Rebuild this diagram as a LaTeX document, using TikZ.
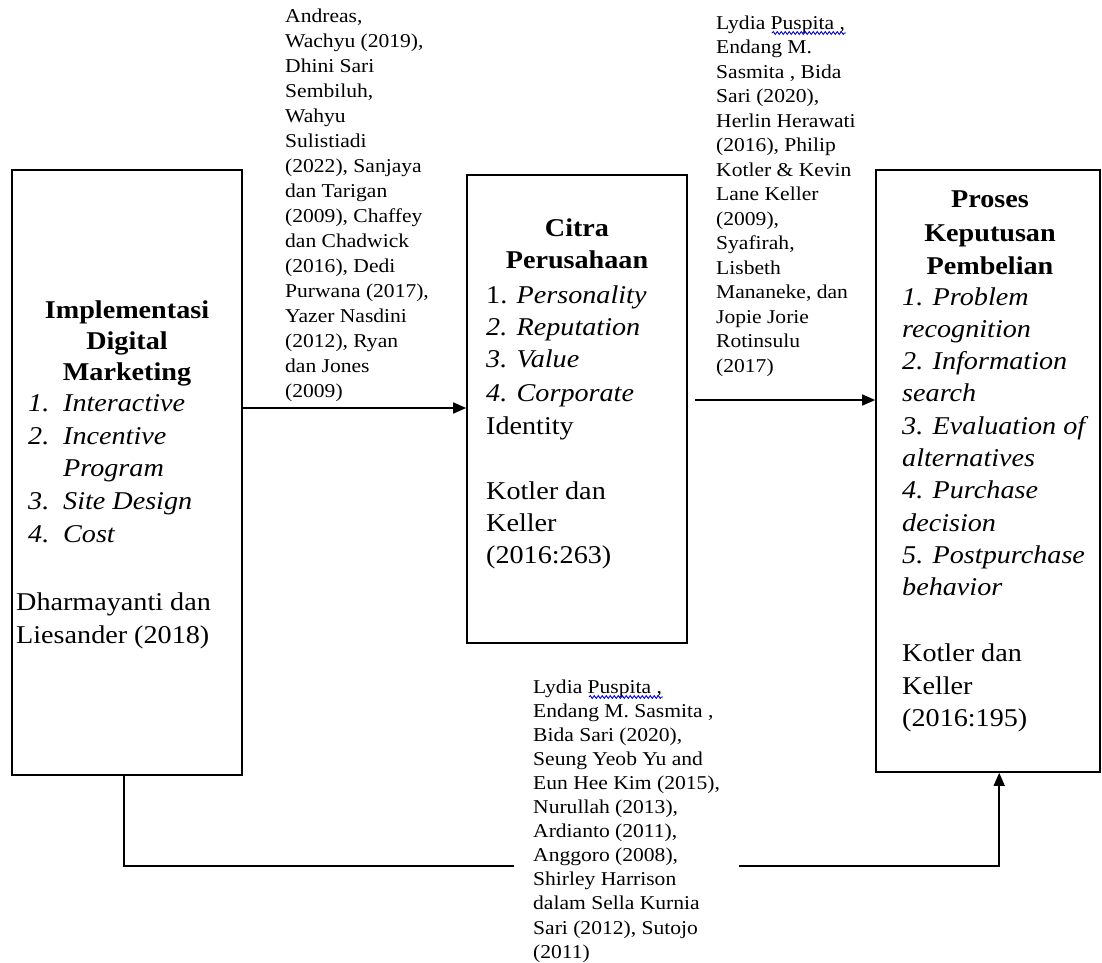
\documentclass[tikz,border=0pt]{standalone}
\usepackage{fontspec}
\setmainfont{Liberation Serif}[FakeStretch=1.1]
\usetikzlibrary{arrows.meta,decorations.pathmorphing}
\begin{document}
\begin{tikzpicture}[x=1pt,y=-1pt,
  box/.style={draw, line width=1.6pt, inner sep=0pt},
  ttl/.style={font=\fontsize{25.6}{30}\selectfont\bfseries, anchor=base, inner sep=0pt},
  bt/.style={font=\fontsize{25.6}{30}\selectfont, anchor=base west, inner sep=0pt},
  cit/.style={font=\fontsize{19.6}{23}\selectfont, anchor=base west, inner sep=0pt},
  conn/.style={line width=1.5pt},
  arr/.style={conn, -{Triangle[length=13pt,width=11pt]}},
  wavy/.style={draw=blue!85!black, line width=0.9pt, decorate, decoration={snake, amplitude=1.4pt, segment length=4pt}}]
\useasboundingbox (0,0) rectangle (1102,962);

% boxes
\node[box, minimum width=230pt, minimum height=605pt] (b1) at (127,472.5) {};
\node[box, minimum width=220pt, minimum height=468pt] (b2) at (577,409) {};
\node[box, minimum width=224pt, minimum height=602pt] (b3) at (988,471) {};

% box 1 text
\node[ttl] (t1a) at (127,318) {Implementasi};
\node[ttl] (t1b) at (127,349) {Digital};
\node[ttl] (t1c) at (127,380) {Marketing};
\node[bt] (l1a) at (28,411) {\itshape\makebox[35pt][l]{1.}Interactive};
\node[bt] (l1b) at (28,444) {\itshape\makebox[35pt][l]{2.}Incentive};
\node[bt] (l1c) at (28,476) {\itshape\makebox[35pt][l]{}Program};
\node[bt] (l1d) at (28,509) {\itshape\makebox[35pt][l]{3.}Site Design};
\node[bt] (l1e) at (28,542) {\itshape\makebox[35pt][l]{4.}Cost};
\node[bt] (r1a) at (16,610) {Dharmayanti dan};
\node[bt] (r1b) at (16,643) {Liesander (2018)};

% box 2 text
\node[ttl] (t2a) at (577,236) {Citra};
\node[ttl] (t2b) at (577,268) {Perusahaan};
\node[bt] (l2a) at (486,303) {1. \textit{Personality}};
\node[bt] (l2b) at (486,335) {\textit{2. Reputation}};
\node[bt] (l2c) at (486,367) {\textit{3. Value}};
\node[bt] (l2d) at (486,401) {\textit{4. Corporate}};
\node[bt] (l2e) at (486,434) {Identity};
\node[bt] (r2a) at (486,499) {Kotler dan};
\node[bt] (r2b) at (486,531) {Keller};
\node[bt] (r2c) at (486,563) {(2016:263)};

% box 3 text
\node[ttl] (t3a) at (990,207) {Proses};
\node[ttl] (t3b) at (990,241) {Keputusan};
\node[ttl] (t3c) at (990,274) {Pembelian};
\foreach \t [count=\i from 0] in {{1. Problem},{recognition},{2. Information},{search},{3. Evaluation of},{alternatives},{4. Purchase},{decision},{5. Postpurchase},{behavior}}
  \node[bt] (l3-\i) at (902,{305+32.3*\i}) {\itshape\t};
\node[bt] (r3a) at (902,661) {Kotler dan};
\node[bt] (r3b) at (902,694) {Keller};
\node[bt] (r3c) at (902,726) {(2016:195)};

% citation blocks
\foreach \t [count=\i from 0] in {{Andreas,},{Wachyu (2019),},{Dhini Sari},{Sembiluh,},{Wahyu},{Sulistiadi},{(2022), Sanjaya},{dan Tarigan},{(2009), Chaffey},{dan Chadwick},{(2016), Dedi},{Purwana (2017),},{Yazer Nasdini},{(2012), Ryan},{dan Jones},{(2009)}}
  \node[cit] (c1-\i) at (285,{22+25*\i}) {\t};

\foreach \t [count=\i from 0] in {{Lydia Puspita ,},{Endang M.},{Sasmita , Bida},{Sari (2020),},{Herlin Herawati},{(2016), Philip},{Kotler \& Kevin},{Lane Keller},{(2009),},{Syafirah,},{Lisbeth},{Mananeke, dan},{Jopie Jorie},{Rotinsulu},{(2017)}}
  \node[cit] (c2-\i) at (716,{29+24.5*\i}) {\t};

\foreach \t [count=\i from 0] in {{Lydia Puspita ,},{Endang M. Sasmita ,},{Bida Sari (2020),},{Seung Yeob Yu and},{Eun Hee Kim (2015),},{Nurullah (2013),},{Ardianto (2011),},{Anggoro (2008),},{Shirley Harrison},{dalam Sella Kurnia},{Sari (2012), Sutojo},{(2011)}}
  \node[cit] (c3-\i) at (533,{693+24.1*\i}) {\t};

% spell-check underlines
\draw[wavy] ([xshift=56pt,yshift=-4pt]c2-0.base west) -- ++(74pt,0);
\draw[wavy] ([xshift=56pt,yshift=-4pt]c3-0.base west) -- ++(74pt,0);

% connectors
\coordinate (a1) at (0,408);
\coordinate (a2) at (0,400);
\draw[arr] (b1.east |- a1) -- (b2.west |- a1);
\path ([xshift=7pt]b2.east) coordinate (b2e);
\draw[arr] (b2e |- a2) -- (b3.west |- a2);

\coordinate (bl) at (514,866);
\coordinate (br) at (739,866);
\draw[conn] (b1.south west) ++(113pt,0) |- (bl);
\draw[arr] (br) -| ([xshift=124pt]b3.south west);
\end{tikzpicture}
\end{document}
